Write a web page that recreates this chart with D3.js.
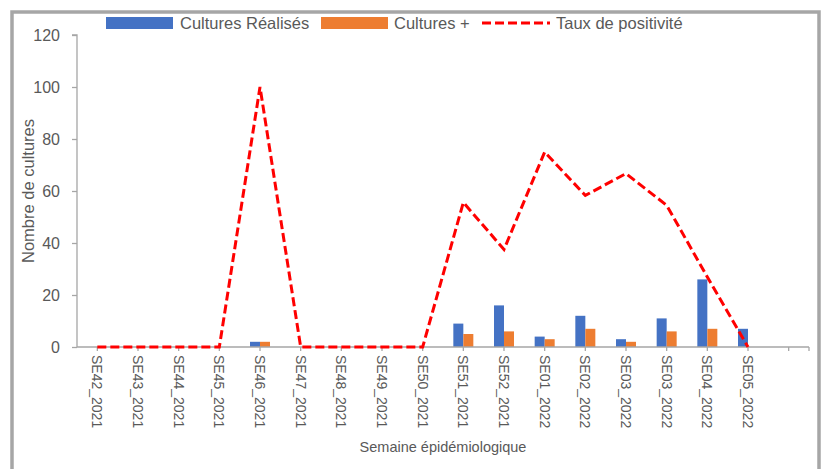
<!DOCTYPE html>
<html>
<head>
<meta charset="utf-8">
<script src="https://cdn.jsdelivr.net/npm/d3@7"></script>
<style>
  body { margin: 0; background: #fff; }
  text { font-family: "Liberation Sans", Arial, sans-serif; fill: #595959; }
</style>
</head>
<body>
<svg id="chart" width="825" height="469"></svg>
<script>
const categories = ["SE42_2021","SE43_2021","SE44_2021","SE45_2021","SE46_2021","SE47_2021","SE48_2021","SE49_2021","SE50_2021","SE51_2021","SE52_2021","SE01_2022","SE02_2022","SE03_2022","SE03_2022","SE04_2022","SE05_2022"];
const culturesRealises = [0,0,0,0,2,0,0,0,0,9,16,4,12,3,11,26,7];
const culturesPositives = [0,0,0,0,2,0,0,0,0,5,6,3,7,2,6,7,0];
const tauxPositivite = [0,0,0,0,100,0,0,0,0,55.6,37.5,75,58.3,66.7,54.5,26.9,0];
const yTicks = [0,20,40,60,80,100,120];
const seriesNames = ["Cultures Réalisés","Cultures +","Taux de positivité"];

const svg = d3.select("#chart");
const mLeft = 77, mRight = 809, mTop = 35, mBottom = 347;

// frame
svg.append("rect").attr("x", 12).attr("y", 12).attr("width", 807).attr("height", 470)
  .attr("fill", "none").attr("stroke", "#a6a6a6").attr("stroke-width", 3.5);

const slots = categories.map((c, i) => i).concat([categories.length]);
const x = d3.scaleBand().domain(slots).range([mLeft, mRight]).paddingInner(0).paddingOuter(0);
const cx = i => x(i) + x.bandwidth() / 2;
const y = d3.scaleLinear().domain([0, 120]).range([mBottom, mTop]);

// y axis
const yAxis = svg.append("g").attr("transform", `translate(${mLeft},0)`)
  .call(d3.axisLeft(y).tickValues(yTicks).tickSize(5).tickPadding(12));
yAxis.select(".domain").attr("stroke", "#a6a6a6").attr("stroke-width", 1.3)
  .attr("d", `M-5,${mTop}H0V${mBottom}`);
yAxis.selectAll(".tick line").attr("stroke", "#a6a6a6").attr("stroke-width", 1.3);
yAxis.selectAll(".tick text").style("font-size", "16px").attr("fill", "#595959");

// bars
const bw = 10;
svg.append("g").selectAll("rect").data(culturesRealises).join("rect")
  .attr("x", (d, i) => cx(i) - bw).attr("width", bw)
  .attr("y", d => y(d)).attr("height", d => mBottom - y(d)).attr("fill", "#4472c4");
svg.append("g").selectAll("rect").data(culturesPositives).join("rect")
  .attr("x", (d, i) => cx(i)).attr("width", bw)
  .attr("y", d => y(d)).attr("height", d => mBottom - y(d)).attr("fill", "#ed7d31");

// x axis
const xAxis = svg.append("g").attr("transform", `translate(0,${mBottom})`);
xAxis.append("line").attr("x1", mLeft).attr("x2", mRight).attr("y1", 0).attr("y2", 0)
  .attr("stroke", "#a6a6a6").attr("stroke-width", 1.3);
xAxis.selectAll(".tk").data(slots).join("line").attr("class", "tk")
  .attr("x1", d => cx(d)).attr("x2", d => cx(d)).attr("y1", 0).attr("y2", 4)
  .attr("stroke", "#a6a6a6").attr("stroke-width", 1.3);
xAxis.append("line").attr("x1", mRight).attr("x2", mRight).attr("y1", 0).attr("y2", 4)
  .attr("stroke", "#a6a6a6").attr("stroke-width", 1.3);
xAxis.selectAll(".lbl").data(categories).join("text").attr("class", "lbl")
  .attr("transform", (d, i) => `translate(${cx(i) - 5},8) rotate(90)`)
  .attr("text-anchor", "start").style("font-size", "14px").text(d => d);

// line
const line = d3.line().x((d, i) => cx(i)).y(d => y(d));
svg.append("path").datum(tauxPositivite).attr("d", line)
  .attr("fill", "none").attr("stroke", "#ff0000").attr("stroke-width", 3)
  .attr("stroke-dasharray", "9,4");

// axis titles
svg.append("text").attr("x", 443).attr("y", 452).attr("text-anchor", "middle")
  .style("font-size", "14.5px").text("Semaine épidémiologique");
svg.append("text").attr("transform", "translate(34,191) rotate(-90)").attr("text-anchor", "middle")
  .style("font-size", "16.5px").text("Nombre de cultures");

// legend
const lg = svg.append("g");
lg.append("rect").attr("x", 106).attr("y", 17).attr("width", 67).attr("height", 12).attr("fill", "#4472c4");
lg.append("text").attr("x", 180).attr("y", 29).style("font-size", "16.5px").text(seriesNames[0]);
lg.append("rect").attr("x", 321).attr("y", 17).attr("width", 67).attr("height", 12).attr("fill", "#ed7d31");
lg.append("text").attr("x", 394).attr("y", 29).style("font-size", "16.5px").text(seriesNames[1]);
lg.append("line").attr("x1", 482).attr("x2", 550).attr("y1", 23).attr("y2", 23)
  .attr("stroke", "#ff0000").attr("stroke-width", 3).attr("stroke-dasharray", "9,4");
lg.append("text").attr("x", 556).attr("y", 29).style("font-size", "16.5px").text(seriesNames[2]);
</script>
</body>
</html>
